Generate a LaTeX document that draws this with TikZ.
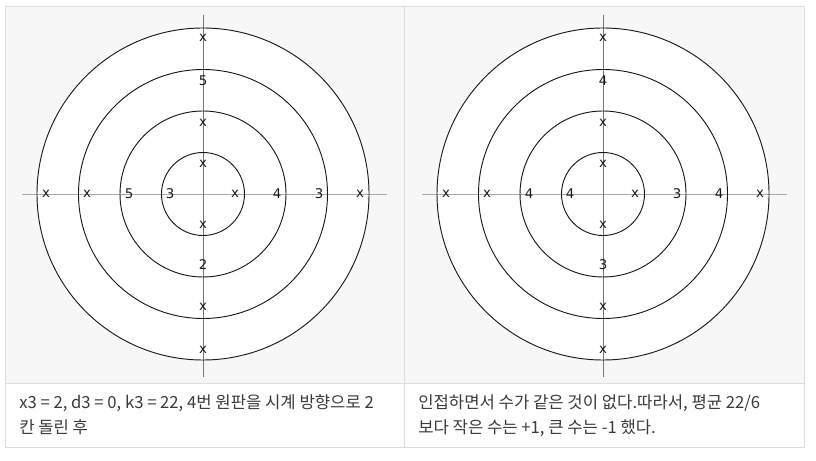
\documentclass[tikz,border=0pt]{standalone}
\usepackage{fontspec}
\setmainfont{DejaVu Sans}
\newfontfamily\kor{Noto Sans CJK KR}
\usetikzlibrary{positioning,calc}
\definecolor{Cell}{HTML}{F7F7F7}
\definecolor{Rule}{HTML}{DDDDDD}
\definecolor{AxisH}{HTML}{AAAAAA}
\definecolor{AxisV}{HTML}{777777}
\definecolor{Ink}{HTML}{1A1A1A}
\definecolor{Text}{HTML}{3A3A3A}
\newcommand{\board}[2]{
  \begin{scope}[shift={(#1,#2)}]
    \fill[white] (0,0) circle (166);
    \draw[AxisH, line width=0.6pt] (-181,0) -- (184,0);
    \draw[AxisV, line width=0.6pt] (0,179) -- (0,-183);
    \foreach \r in {41.5,83,124.5,166}
      \draw[Ink, line width=0.7pt] (0,0) circle (\r);
  \end{scope}
}

\begin{document}
\begin{tikzpicture}[x=0.75pt,y=0.75pt,
    lbl/.style={font=\fontsize{10}{12}\selectfont, text=Ink, inner sep=0pt},
    captext/.style={font=\kor\fontsize{12.5}{15}\selectfont, text=Text, inner sep=0pt, anchor=base west}]
    \useasboundingbox (0,0) rectangle (816,460);
    % table
    \fill[Cell] (5,76) rectangle (804,453);
    \draw[Rule, line width=0.75pt] (5,13) rectangle (804,453);
    \draw[Rule, line width=0.75pt] (5,76) -- (804,76);
    \draw[Rule, line width=0.75pt] (404,13) -- (404,453);
    % boards
    \board{203}{266}
    \board{603}{266}
    \coordinate (cl) at (203,266);
    \coordinate (cr) at (603,266);
    % left board marks, inner to outer
    \foreach \d/\t [count=\i] in {30/x,71/x,113/5,156/x}
      \node[lbl] (l-n\i) at ($(cl)+(0,\d)$) {\t};
    \foreach \d/\t [count=\i] in {31/x,71/2,113/x,156/x}
      \node[lbl] (l-s\i) at ($(cl)+(0,-\d)$) {\t};
    \foreach \d/\t [count=\i] in {33/3,74/5,116/x,157/x}
      \node[lbl] (l-w\i) at ($(cl)+(-\d,0)$) {\t};
    \foreach \d/\t [count=\i] in {32/x,74/4,116/3,157/x}
      \node[lbl] (l-e\i) at ($(cl)+(\d,0)$) {\t};
    % right board marks, inner to outer
    \foreach \d/\t [count=\i] in {30/x,71/x,113/4,156/x}
      \node[lbl] (r-n\i) at ($(cr)+(0,\d)$) {\t};
    \foreach \d/\t [count=\i] in {31/x,71/3,113/x,156/x}
      \node[lbl] (r-s\i) at ($(cr)+(0,-\d)$) {\t};
    \foreach \d/\t [count=\i] in {33/4,74/4,116/x,157/x}
      \node[lbl] (r-w\i) at ($(cr)+(-\d,0)$) {\t};
    \foreach \d/\t [count=\i] in {32/x,74/3,116/4,157/x}
      \node[lbl] (r-e\i) at ($(cr)+(\d,0)$) {\t};
    % captions
    \node[captext] (capL1) at (19,51) {x3 = 2, d3 = 0, k3 = 22, 4번 원판을 시계 방향으로 2};
    \node[captext] (capL2) at ($(capL1.base west)+(0,-24)$) {칸 돌린 후};
    \node[captext] (capR1) at (418,51) {인접하면서 수가 같은 것이 없다.따라서, 평균 22/6};
    \node[captext] (capR2) at ($(capR1.base west)+(0,-24)$) {보다 작은 수는 +1, 큰 수는 -1 했다.};
  \end{tikzpicture}
\end{document}
